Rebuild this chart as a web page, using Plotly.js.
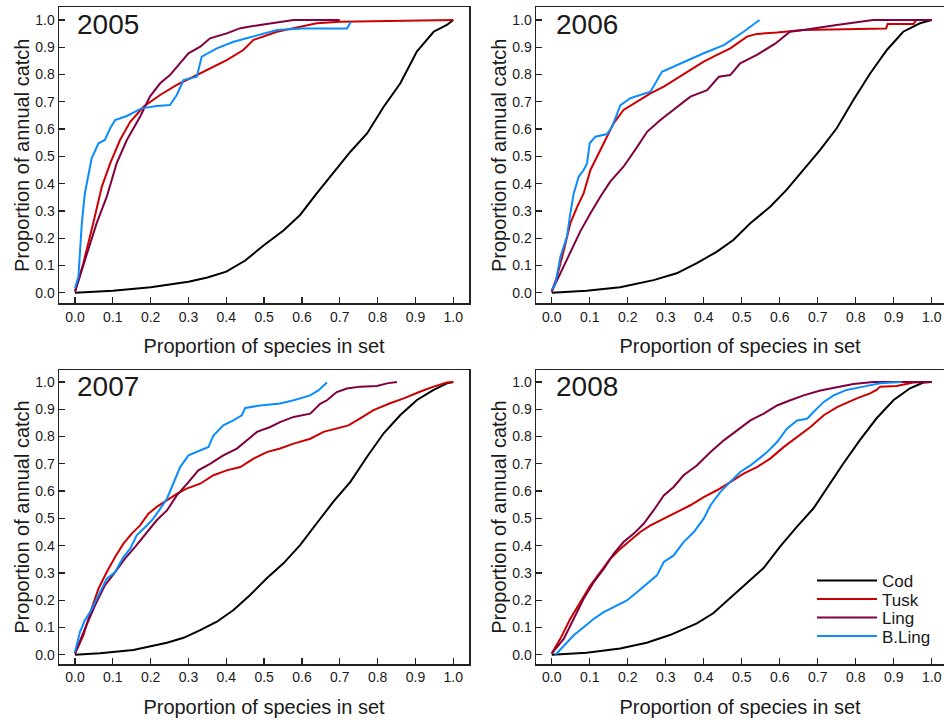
<!DOCTYPE html>
<html>
<head>
<meta charset="utf-8">
<script src="https://cdn.plot.ly/plotly-3.0.1.min.js"></script>
<style>html,body{margin:0;padding:0;background:#fff;}#chart{width:944px;height:722px;}</style>
</head>
<body>
<div id="chart"></div>
<script>
// ---------- data ----------
const species = ["Cod", "Tusk", "Ling", "B.Ling"];
const years = ["2005", "2006", "2007", "2008"];
const tickVals = [0, 0.1, 0.2, 0.3, 0.4, 0.5, 0.6, 0.7, 0.8, 0.9, 1.0];
const tickText = ["0.0","0.1","0.2","0.3","0.4","0.5","0.6","0.7","0.8","0.9","1.0"];

// 2005
const cod05x = [0, 0.1, 0.2, 0.3, 0.35, 0.4, 0.45, 0.5, 0.551, 0.595, 0.639, 0.683, 0.728, 0.772, 0.816, 0.86, 0.904, 0.948, 0.983, 1.0];
const cod05y = [0, 0.007, 0.02, 0.04, 0.056, 0.077, 0.118, 0.175, 0.228, 0.285, 0.364, 0.438, 0.517, 0.584, 0.682, 0.768, 0.885, 0.957, 0.982, 1.0];
const tusk05x = [0, 0.022, 0.048, 0.071, 0.093, 0.119, 0.146, 0.181, 0.225, 0.269, 0.313, 0.348, 0.401, 0.445, 0.472, 0.534, 0.595, 0.639, 0.70, 0.92, 1.0];
const tusk05y = [0.004, 0.108, 0.254, 0.389, 0.474, 0.56, 0.627, 0.682, 0.725, 0.762, 0.792, 0.817, 0.853, 0.89, 0.927, 0.957, 0.976, 0.988, 0.994, 1.0, 1.0];
const ling05x = [0, 0.026, 0.057, 0.084, 0.11, 0.137, 0.172, 0.198, 0.225, 0.251, 0.278, 0.3, 0.331, 0.357, 0.401, 0.437, 0.489, 0.542, 0.578, 0.70];
const ling05y = [0.004, 0.12, 0.254, 0.352, 0.474, 0.56, 0.645, 0.719, 0.768, 0.798, 0.841, 0.878, 0.902, 0.933, 0.951, 0.97, 0.982, 0.994, 1.0, 1.0];
const bling05x = [0, 0.009, 0.018, 0.026, 0.044, 0.062, 0.079, 0.093, 0.106, 0.137, 0.176, 0.216, 0.251, 0.269, 0.287, 0.322, 0.335, 0.375, 0.419, 0.472, 0.534, 0.60, 0.719, 0.729];
const bling05y = [0.016, 0.059, 0.254, 0.364, 0.493, 0.548, 0.56, 0.603, 0.633, 0.648, 0.676, 0.685, 0.688, 0.725, 0.78, 0.792, 0.866, 0.896, 0.92, 0.939, 0.963, 0.969, 0.969, 0.993];

// 2006
const cod06x = [0, 0.092, 0.18, 0.268, 0.329, 0.382, 0.434, 0.478, 0.522, 0.575, 0.618, 0.662, 0.706, 0.75, 0.794, 0.838, 0.882, 0.925, 0.969, 1.0];
const cod06y = [0, 0.007, 0.02, 0.046, 0.071, 0.108, 0.15, 0.193, 0.254, 0.315, 0.377, 0.45, 0.523, 0.603, 0.707, 0.804, 0.89, 0.957, 0.988, 1.0];
const tusk06x = [0, 0.014, 0.032, 0.049, 0.067, 0.084, 0.102, 0.119, 0.137, 0.163, 0.189, 0.225, 0.26, 0.295, 0.33, 0.365, 0.4, 0.435, 0.47, 0.514, 0.54, 0.593, 0.662, 0.88, 0.884, 0.952, 0.96, 1.0];
const tusk06y = [0.004, 0.059, 0.156, 0.254, 0.315, 0.364, 0.45, 0.499, 0.548, 0.621, 0.67, 0.7, 0.731, 0.756, 0.786, 0.817, 0.847, 0.872, 0.896, 0.939, 0.949, 0.954, 0.963, 0.969, 0.985, 0.985, 1.0, 1.0];
const ling06x = [0, 0.023, 0.049, 0.075, 0.102, 0.128, 0.154, 0.189, 0.225, 0.251, 0.286, 0.321, 0.365, 0.409, 0.44, 0.47, 0.496, 0.54, 0.589, 0.627, 0.662, 0.75, 0.794, 0.846, 1.0];
const ling06y = [0.004, 0.071, 0.144, 0.224, 0.291, 0.352, 0.407, 0.462, 0.535, 0.59, 0.633, 0.67, 0.719, 0.743, 0.792, 0.798, 0.841, 0.872, 0.914, 0.957, 0.963, 0.982, 0.991, 1.0, 1.0];
const bling06x = [0, 0.01, 0.023, 0.032, 0.04, 0.049, 0.058, 0.071, 0.084, 0.093, 0.1, 0.115, 0.146, 0.159, 0.181, 0.207, 0.26, 0.29, 0.339, 0.4, 0.453, 0.505, 0.547];
const bling06y = [0.01, 0.034, 0.132, 0.169, 0.205, 0.291, 0.364, 0.425, 0.45, 0.474, 0.548, 0.572, 0.582, 0.609, 0.688, 0.713, 0.737, 0.81, 0.841, 0.878, 0.908, 0.957, 1.0];

// 2007
const cod07x = [0, 0.066, 0.154, 0.198, 0.243, 0.287, 0.331, 0.375, 0.419, 0.463, 0.507, 0.551, 0.595, 0.639, 0.683, 0.728, 0.772, 0.816, 0.86, 0.904, 0.948, 0.983, 1.0];
const cod07y = [0, 0.005, 0.017, 0.029, 0.044, 0.062, 0.09, 0.121, 0.164, 0.219, 0.28, 0.335, 0.402, 0.482, 0.561, 0.634, 0.726, 0.812, 0.879, 0.934, 0.971, 0.995, 1.0];
const tusk07x = [0, 0.022, 0.044, 0.062, 0.084, 0.106, 0.128, 0.15, 0.172, 0.194, 0.216, 0.243, 0.269, 0.295, 0.331, 0.366, 0.401, 0.437, 0.472, 0.507, 0.542, 0.578, 0.622, 0.657, 0.692, 0.723, 0.754, 0.789, 0.833, 0.869, 0.913, 0.948, 0.983, 1.0];
const tusk07y = [0.004, 0.071, 0.169, 0.242, 0.303, 0.358, 0.407, 0.444, 0.474, 0.517, 0.542, 0.566, 0.59, 0.609, 0.627, 0.658, 0.676, 0.688, 0.719, 0.743, 0.756, 0.774, 0.792, 0.817, 0.829, 0.841, 0.867, 0.897, 0.922, 0.94, 0.965, 0.983, 0.998, 1.0];
const ling07x = [0, 0.026, 0.053, 0.079, 0.106, 0.132, 0.159, 0.185, 0.216, 0.243, 0.269, 0.3, 0.326, 0.357, 0.392, 0.428, 0.454, 0.481, 0.516, 0.542, 0.578, 0.622, 0.648, 0.666, 0.692, 0.719, 0.754, 0.798, 0.825, 0.851];
const ling07y = [0.004, 0.095, 0.181, 0.254, 0.303, 0.352, 0.395, 0.438, 0.493, 0.529, 0.584, 0.633, 0.676, 0.7, 0.731, 0.756, 0.786, 0.817, 0.835, 0.853, 0.872, 0.884, 0.92, 0.933, 0.963, 0.976, 0.983, 0.985, 0.995, 1.0];
const bling07x = [0, 0.013, 0.026, 0.04, 0.053, 0.066, 0.084, 0.106, 0.128, 0.146, 0.163, 0.19, 0.207, 0.225, 0.243, 0.256, 0.278, 0.3, 0.331, 0.353, 0.366, 0.392, 0.419, 0.441, 0.45, 0.489, 0.542, 0.578, 0.622, 0.644, 0.666];
const bling07y = [0.01, 0.083, 0.126, 0.156, 0.193, 0.23, 0.279, 0.303, 0.358, 0.389, 0.438, 0.474, 0.499, 0.535, 0.572, 0.615, 0.688, 0.731, 0.749, 0.762, 0.804, 0.841, 0.859, 0.878, 0.905, 0.914, 0.921, 0.933, 0.951, 0.97, 0.998];

// 2008
const cod08x = [0, 0.092, 0.18, 0.25, 0.311, 0.382, 0.425, 0.469, 0.513, 0.557, 0.601, 0.645, 0.689, 0.732, 0.768, 0.811, 0.855, 0.9, 0.943, 0.978, 1.0];
const cod08y = [0, 0.007, 0.023, 0.044, 0.072, 0.115, 0.152, 0.207, 0.262, 0.317, 0.396, 0.469, 0.537, 0.628, 0.702, 0.787, 0.867, 0.934, 0.977, 0.998, 1.0];
const tusk08x = [0, 0.023, 0.049, 0.075, 0.102, 0.128, 0.154, 0.181, 0.207, 0.233, 0.26, 0.295, 0.33, 0.365, 0.4, 0.435, 0.47, 0.505, 0.54, 0.575, 0.611, 0.646, 0.681, 0.716, 0.751, 0.803, 0.838, 0.855, 0.864, 0.908, 0.952, 1.0];
const tusk08y = [0.004, 0.059, 0.132, 0.193, 0.254, 0.303, 0.352, 0.389, 0.419, 0.45, 0.474, 0.499, 0.523, 0.548, 0.578, 0.603, 0.633, 0.664, 0.688, 0.719, 0.762, 0.798, 0.835, 0.878, 0.908, 0.94, 0.958, 0.971, 0.983, 0.985, 0.998, 1.0];
const ling08x = [0, 0.032, 0.058, 0.084, 0.111, 0.137, 0.163, 0.189, 0.216, 0.242, 0.268, 0.295, 0.321, 0.347, 0.382, 0.418, 0.453, 0.488, 0.523, 0.558, 0.593, 0.628, 0.663, 0.707, 0.751, 0.794, 0.846, 1.0];
const ling08y = [0.004, 0.059, 0.132, 0.205, 0.267, 0.315, 0.37, 0.413, 0.444, 0.48, 0.529, 0.584, 0.615, 0.658, 0.694, 0.743, 0.786, 0.823, 0.859, 0.884, 0.914, 0.933, 0.951, 0.969, 0.982, 0.993, 1.0, 1.0];
const bling08x = [0.01, 0.032, 0.058, 0.084, 0.111, 0.137, 0.172, 0.198, 0.225, 0.251, 0.277, 0.295, 0.321, 0.347, 0.374, 0.4, 0.418, 0.444, 0.47, 0.496, 0.523, 0.54, 0.567, 0.593, 0.619, 0.646, 0.672, 0.689, 0.716, 0.742, 0.776, 0.82, 0.864, 0.92];
const bling08y = [0, 0.034, 0.071, 0.101, 0.132, 0.156, 0.181, 0.199, 0.23, 0.26, 0.291, 0.34, 0.364, 0.413, 0.45, 0.499, 0.548, 0.597, 0.633, 0.67, 0.694, 0.713, 0.743, 0.78, 0.829, 0.859, 0.865, 0.89, 0.927, 0.951, 0.971, 0.983, 0.995, 1.0];

// ---------- styling ----------
const colors = {"Cod": "#000000", "Tusk": "#cc0000", "Ling": "#800040", "B.Ling": "#0a8cff"};
const FONT = "Liberation Sans, Arial, sans-serif";
const TXT = "#1a1a1a";
const legendIds = ["legend", "legend2", "legend3", "legend4"];

const panels = [
  {year: "2005", xa: "x",  ya: "y",  series: [[cod05x, cod05y], [tusk05x, tusk05y], [ling05x, ling05y], [bling05x, bling05y]]},
  {year: "2006", xa: "x2", ya: "y2", series: [[cod06x, cod06y], [tusk06x, tusk06y], [ling06x, ling06y], [bling06x, bling06y]]},
  {year: "2007", xa: "x3", ya: "y3", series: [[cod07x, cod07y], [tusk07x, tusk07y], [ling07x, ling07y], [bling07x, bling07y]]},
  {year: "2008", xa: "x4", ya: "y4", series: [[cod08x, cod08y], [tusk08x, tusk08y], [ling08x, ling08y], [bling08x, bling08y]]}
];

const traces = [];
panels.forEach((p, pi) => {
  p.series.forEach((s, si) => {
    traces.push({
      type: "scatter", mode: "lines",
      x: s[0], y: s[1],
      xaxis: p.xa, yaxis: p.ya,
      name: species[si],
      legend: legendIds[si],
      showlegend: pi === 3,
      line: {color: colors[species[si]], width: 2},
      hoverinfo: "x+y+name"
    });
  });
});

function xAxis(domain, range, anchor) {
  return {
    domain: domain, range: range, anchor: anchor,
    tickmode: "array", tickvals: tickVals, ticktext: tickText,
    ticks: "inside", ticklen: 6, tickwidth: 1.3, tickcolor: "#222",
    showline: true, linecolor: "#222", linewidth: 1.5, mirror: true,
    showgrid: false, zeroline: false,
    tickfont: {family: FONT, size: 14, color: TXT},
    title: {text: "Proportion of species in set", font: {family: FONT, size: 20, color: TXT}, standoff: 15},
    automargin: false, fixedrange: true
  };
}
function yAxis(domain, range, anchor, mirror) {
  return {
    domain: domain, range: range, anchor: anchor,
    tickmode: "array", tickvals: tickVals, ticktext: tickText,
    ticks: "inside", ticklen: 6, tickwidth: 1.3, tickcolor: "#222",
    showline: true, linecolor: "#222", linewidth: 1.5, mirror: mirror,
    showgrid: false, zeroline: false,
    tickfont: {family: FONT, size: 14, color: TXT},
    title: {text: "Proportion of annual catch", font: {family: FONT, size: 20, color: TXT}, standoff: 0},
    automargin: false, fixedrange: true
  };
}

const W = 944, H = 722;
const leftDom = [59 / W, 469 / W];
const rightDom = [536 / W, 1.0];
const topDom = [1 - 303.3 / H, 1 - 7.3 / H];
const botDom = [1 - 664 / H, 1 - 370 / H];
const leftRange = [-0.0423, 1.0415];
const rightRange = [-0.0413, 1.0324];
const topRange = [-0.0389, 1.0466];
const botRange = [-0.0341, 1.044];

const annotations = panels.map((p) => ({
  text: p.year, xref: p.xa, yref: p.ya,
  x: p.xa === "x" || p.xa === "x3" ? 0.0 : 0.006, y: 0.985,
  xanchor: "left", yanchor: "middle", showarrow: false,
  font: {family: FONT, size: 28, color: TXT}
}));

// four single-entry legends so the entries can sit as tightly as in the original
const legendRowsPx = [581, 599.5, 618, 636.5];
function legendAt(rowPx) {
  return {
    x: 812 / W, y: 1 - rowPx / H, xanchor: "left", yanchor: "middle",
    bgcolor: "rgba(0,0,0,0)", borderwidth: 0,
    font: {family: FONT, size: 17, color: TXT},
    itemwidth: 60
  };
}

const layout = {
  width: W, height: H,
  margin: {l: 0, r: 0, t: 0, b: 0},
  paper_bgcolor: "#ffffff", plot_bgcolor: "#ffffff",
  showlegend: true,
  legend: legendAt(legendRowsPx[0]),
  legend2: legendAt(legendRowsPx[1]),
  legend3: legendAt(legendRowsPx[2]),
  legend4: legendAt(legendRowsPx[3]),
  xaxis: xAxis(leftDom, leftRange, "y"),
  yaxis: yAxis(topDom, topRange, "x", true),
  xaxis2: xAxis(rightDom, rightRange, "y2"),
  yaxis2: yAxis(topDom, topRange, "x2", false),
  xaxis3: xAxis(leftDom, leftRange, "y3"),
  yaxis3: yAxis(botDom, botRange, "x3", true),
  xaxis4: xAxis(rightDom, rightRange, "y4"),
  yaxis4: yAxis(botDom, botRange, "x4", false),
  annotations: annotations
};

Plotly.newPlot("chart", traces, layout, {displayModeBar: false, staticPlot: true});
</script>
</body>
</html>
